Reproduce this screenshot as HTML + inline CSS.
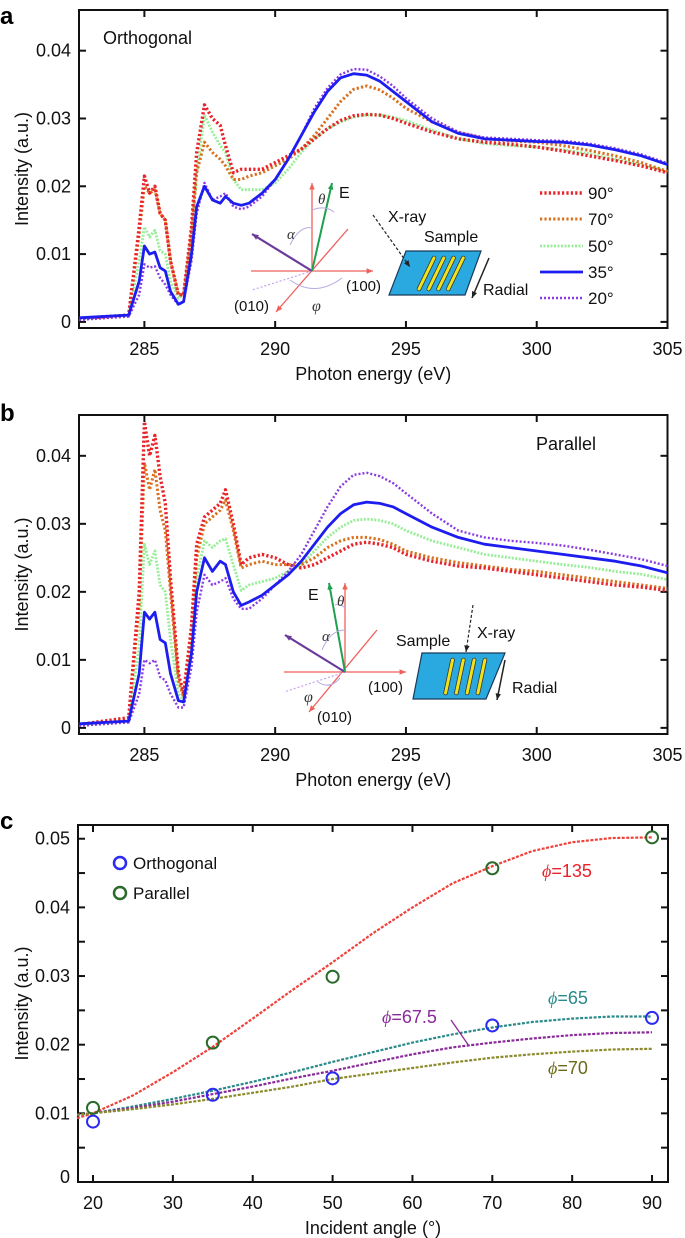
<!DOCTYPE html>
<html><head><meta charset="utf-8">
<style>
html,body{margin:0;padding:0;background:#fff;}
svg{display:block;font-family:"Liberation Sans",sans-serif;}
</style></head>
<body>
<svg id="fig" width="685" height="1238" viewBox="0 0 685 1238" xmlns="http://www.w3.org/2000/svg">
<text x="0" y="24" font-size="24" font-weight="bold">a</text>
<text x="0" y="421" font-size="24" font-weight="bold">b</text>
<text x="0" y="829" font-size="24" font-weight="bold">c</text>
<g id="pa"></g>
<g id="pb"></g>
<g id="pc"></g>
</svg>
<script>
// ---- data panels a & b ----
const energies = [282.5,284.4,284.8,285.0,285.2,285.4,285.6,285.8,286.0,286.3,286.5,286.8,287.0,287.3,287.6,287.9,288.1,288.4,288.7,289.0,289.5,290,290.5,291,291.5,292,292.5,293,293.5,294,294.5,295,296,297,298,299,300,301,302,303,304,305];
const seriesLabels = ["90°","70°","50°","35°","20°"];
const orth90 = [0.5,1,14,21.5,19,20,16,15,9,4,4,14,25,32,30,29,26,22,22.5,22.5,22.5,23.5,24.5,25.5,27,28.5,29.7,30.4,30.6,30.5,30,29.3,28,27,26.5,26.2,25.8,25.2,24.5,23.8,23,22];
const orth70 = [0.5,1,13,20,19,19.5,16,15,9,4,4,13,22,26.5,25,24,23,21,21,21.5,22,23,24,25.5,27.5,30,32.5,34.3,34.8,34.2,33,31.5,29.5,28,27,26.7,26.5,26,25.3,24.5,23.5,22.2];
const orth50 = [0.5,1,9,14,12.5,13.5,10.5,10,6,3.5,4,12,22,30.5,28,26,25,21,19.5,19.5,19.5,20.5,22.5,25,27,28.5,29.5,30.2,30.5,30.5,30.2,29.7,28.3,27,26.3,26,25.8,25.4,24.8,24,23.2,22.2];
const orth35 = [0.6,1,6,11.2,10,10.3,8,7.5,4.5,2.6,3,10,17,20,18,17.5,18.5,17.5,17.2,17.5,19,21,24,27.5,31,34,36,36.6,36.4,35.5,34,32.5,29.5,27.8,27,26.8,26.6,26.5,26.1,25.4,24.5,23.2];
const orth20 = [0.3,0.8,4,8.5,8,8.2,6.5,5.5,4,2.5,3,9,16,20.5,18,18.5,19,17,16.6,17,18.5,21,24,27.5,31.5,34.5,36.5,37.3,37.2,36.2,34.8,33,30,28,27.2,27,26.8,26.7,26.3,25.6,24.7,23.4];
const par90 = [0.5,1.5,20,45,40,43,37,33,22,8,5,15,27,31,32,33,35,30,24,25,25.5,25,24,23.5,24,25,26,27,27.3,27,26.5,25.5,24.5,23.8,23.5,23,22.5,22,21.5,21,20.7,20.2];
const par70 = [0.5,1.5,18,39,35,38,32,29,20,7,4.5,14,25,30,31,32,33.5,29,23.5,24,24.5,24,24,24,25,26.5,27.5,28,28,27.7,27,26,25,24.3,23.8,23.3,23,22.5,22,21.5,21,20.5];
const par50 = [0.5,1,12,27,24,26,21,20,13,5,4,12,22,27.5,26.5,27.5,27.8,24,20.2,21,21.5,22,23,24,26,28,29.5,30.5,30.7,30.5,30,29,27.5,26.5,25.5,25,24.5,24,23.6,23,22.6,21.8];
const par35 = [0.6,1,8,17,16,17,13,12.5,8,4,3.8,11,20,25,23,24.5,24,20,18,18.5,19.5,21,22.5,24.5,27,29.5,31.5,32.8,33.2,33,32.5,31.5,29.5,28,27,26.5,26,25.5,25,24.5,23.8,22.8];
const par20 = [0.3,0.8,5,10,9.5,10,7.5,7,5,3,3,9,17,22.5,21,21.5,22,19,17.5,17.5,19,21,23,25.5,29,32.5,35.5,37.2,37.5,37,36,34.5,31.5,29,28,27.5,27.2,26.8,26.2,25.5,24.8,23.8];
const spectraXTicks = [285,290,295,300,305];
const spectraYTicks = [0,0.01,0.02,0.03,0.04];
// ---- data panel c ----
const angles = [18,20,25,30,35,40,45,50,55,60,65,70,75,80,85,90];
const fitPhi135 = [0.0093,0.0100,0.0126,0.0160,0.0197,0.0238,0.0280,0.0320,0.0362,0.0400,0.0435,0.0460,0.0482,0.0495,0.0501,0.0502];
const fitPhi65 = [0.0098,0.0100,0.0110,0.0121,0.0133,0.0146,0.0160,0.0175,0.0189,0.0203,0.0215,0.0225,0.0233,0.0238,0.0241,0.0241];
const fitPhi675 = [0.0098,0.0100,0.0108,0.0117,0.0128,0.0139,0.0151,0.0162,0.0174,0.0186,0.0196,0.0203,0.0209,0.0214,0.0217,0.0218];
const fitPhi70 = [0.0098,0.0100,0.0106,0.0113,0.0121,0.0130,0.0139,0.0150,0.0158,0.0166,0.0174,0.0181,0.0186,0.0190,0.0193,0.0194];
const pointAngles = [20,35,50,70,90];
const orthPoints = [0.0088,0.0127,0.0151,0.0228,0.0239];
const parPoints = [0.0108,0.0203,0.0299,0.0457,0.0502];
const cXTicks = [20,30,40,50,60,70,80,90];
const cYTicks = [0,0.01,0.02,0.03,0.04,0.05];
const cYMinor = [0.005,0.015,0.025,0.035,0.045];

const NS="http://www.w3.org/2000/svg";
function mk(parent,tag,attrs,text){const e=document.createElementNS(NS,tag);for(const k in attrs)e.setAttribute(k,attrs[k]);if(text!==undefined)e.textContent=text;parent.appendChild(e);return e;}

const styles=[
 {c:"#e8232a",w:3.4,d:"2.2 2.2"},
 {c:"#d8701e",w:3.0,d:"2.2 2.2"},
 {c:"#98ee98",w:2.8,d:"2 1.5"},
 {c:"#1d1df0",w:2.8,d:""},
 {c:"#8a3be2",w:2.4,d:"2 2"}];

function axesFrame(g,L,R,T,B,xs,ys,xt,yt,xTitle,yTitleY,tickFmt,minorY){
  mk(g,"rect",{x:L,y:T,width:R-L,height:B-T,fill:"none",stroke:"#111","stroke-width":2});
  xt.forEach(v=>{const x=xs(v);
    const t=mk(g,"line",{x1:x,y1:B,x2:x,y2:B-7,stroke:"#111","stroke-width":2});
    
    
    mk(g,"line",{x1:x,y1:T,x2:x,y2:T+7,stroke:"#111","stroke-width":2});
    const lb=mk(g,"text",{x:x,y:B+27,"font-size":18,"text-anchor":"middle",fill:"#111"},String(v));
    
    
  });
  yt.forEach(v=>{const y=ys(v);
    mk(g,"line",{x1:L,y1:y,x2:L+7,y2:y,stroke:"#111","stroke-width":2});
    mk(g,"line",{x1:R,y1:y,x2:R-7,y2:y,stroke:"#111","stroke-width":2});
    const lb=mk(g,"text",{x:L-8,y:Math.min(y+6,B+1),"font-size":18,"text-anchor":"end",fill:"#111"},tickFmt(v));
    
    
  });
  (minorY||[]).forEach(v=>{const y=ys(v);
    mk(g,"line",{x1:L,y1:y,x2:L+7,y2:y,stroke:"#111","stroke-width":2});
    mk(g,"line",{x1:R,y1:y,x2:R-7,y2:y,stroke:"#111","stroke-width":2});});
  const xtl=mk(g,"text",{x:(L+R)/2,y:B+52,"font-size":18,"text-anchor":"middle",fill:"#111"},xTitle);
  
  
  const ytl=mk(g,"text",{x:0,y:0,"font-size":18,"text-anchor":"middle",fill:"#111",transform:`translate(28,${yTitleY}) rotate(-90)`},"Intensity (a.u.)");
  
  
}
const fmt=v=>v===0?"0":v.toFixed(2);

function spectraPanel(g,T,B,series,title,tx,ty){
  const L=79,R=667.5,xmin=282.5,xmax=305,ymin=-0.0009,ymax=0.046;
  const xs=v=>L+(v-xmin)/(xmax-xmin)*(R-L);
  const ys=v=>B-(v-ymin)/(ymax-ymin)*(B-T);
  axesFrame(g,L,R,T,B,xs,ys,spectraXTicks,spectraYTicks,"Photon energy (eV)",(T+B)/2,fmt);
  const order=[2,1,0,4,3];
  order.forEach(i=>{const s=series[i],st=styles[i];
    const pts=energies.map((e,j)=>xs(e).toFixed(1)+","+ys(s[j]/1000).toFixed(1)).join(" ");
    const p=mk(g,"polyline",{points:pts,fill:"none",stroke:st.c,"stroke-width":st.w,"stroke-dasharray":st.d,"stroke-linejoin":"round"});
    
    
  });
  const t=mk(g,"text",{x:tx,y:ty,"font-size":18,fill:"#111"},title);
  
  
}
spectraPanel(document.getElementById("pa"),10,328,[orth90,orth70,orth50,orth35,orth20],"Orthogonal",103,44);
spectraPanel(document.getElementById("pb"),415,734,[par90,par70,par50,par35,par20],"Parallel",536,450);

// legend in a
(function(){const g=document.getElementById("pa");
  const lg=mk(g,"g",{});
  
  
  const ly=[193,219,246,272,298];
  seriesLabels.forEach((lab,i)=>{const st=styles[i];
    const e=mk(lg,"g",{});
    
    
    mk(e,"line",{x1:540,y1:ly[i],x2:583,y2:ly[i],stroke:st.c,"stroke-width":st.w,"stroke-dasharray":st.d});
    mk(e,"text",{x:588,y:ly[i]+6,"font-size":17,fill:"#111"},lab);
  });
})();

function arrowHead(g,x1,y1,x2,y2,col,sz){const a=Math.atan2(y2-y1,x2-x1),s=sz||7;
  mk(g,"polygon",{points:`${x2},${y2} ${x2-s*Math.cos(a-0.4)},${y2-s*Math.sin(a-0.4)} ${x2-s*Math.cos(a+0.4)},${y2-s*Math.sin(a+0.4)}`,fill:col});}
function line(g,x1,y1,x2,y2,col,w,dash,head){mk(g,"line",{x1,y1,x2,y2,stroke:col,"stroke-width":w||1.3,"stroke-dasharray":dash||""});if(head)arrowHead(g,x1,y1,x2,y2,col);}
function sample(g,p){mk(g,"polygon",{points:p.map(q=>q.join(",")).join(" "),fill:"#2aa8e0",stroke:"#1a3a5a","stroke-width":1.2});
  const x0=p[3][0],y0=p[3][1],x1=p[0][0],y1=p[0][1];
  for(let k=0;k<4;k++){const ox=(p[1][0]-p[0][0])*(0.32+k*0.13);
    mk(g,"line",{x1:x0+ox+6,y1:y0-6,x2:x1+ox+4,y2:y1+7,stroke:"#333","stroke-width":4.5,"stroke-linecap":"round"});
    mk(g,"line",{x1:x0+ox+6,y1:y0-6,x2:x1+ox+4,y2:y1+7,stroke:"#f2e21c","stroke-width":3,"stroke-linecap":"round"});}}
function ital(g,x,y,t,col,fs){return mk(g,"text",{x,y,"font-size":fs||15,"font-style":"italic","font-family":"Liberation Serif,serif",fill:col||"#333"},t);}

// inset a
(function(){const g=mk(document.getElementById("pa"),"g",{});
  
  
  const R="#f0605a";
  line(g,312,271,312,183,R,1.3,"",true);
  line(g,251,271,373,271,R,1.3,"",true);
  line(g,348,229,276,312,R,1.3,"",true);
  line(g,312,271,252,290,"#c9a8ee",1.3,"2 2");
  line(g,312,271,252,234,"#6a3a9a",2.2,"",true);
  line(g,312,271,332,183,"#1ea050",2,"",true);
  mk(g,"path",{d:"M312,210 Q325,205 334,212",fill:"none",stroke:"#b8a8e0"});
  mk(g,"path",{d:"M312,228 Q300,225 290,245",fill:"none",stroke:"#b8a8e0"});
  mk(g,"path",{d:"M290,280 Q315,298 342,278",fill:"none",stroke:"#b8a8e0"});
  ital(g,318,204,"θ");mk(g,"text",{x:339,y:198,"font-size":16,fill:"#111"},"E");
  ital(g,287,239,"α");ital(g,312,311,"φ","#333",16);
  mk(g,"text",{x:346,y:291,"font-size":15,fill:"#111"},"(100)");
  mk(g,"text",{x:234,y:311,"font-size":15,fill:"#111"},"(010)");
  sample(g,[[406,251],[481,251],[465,295],[389,295]]);
  line(g,373,215,410,267,"#222",1.2,"3 2",true);
  line(g,489,258,472,298,"#222",1.5,"",true);
  mk(g,"text",{x:388,y:222,"font-size":16,fill:"#111"},"X-ray");
  mk(g,"text",{x:424,y:242,"font-size":16,fill:"#111"},"Sample");
  mk(g,"text",{x:483,y:295,"font-size":16,fill:"#111"},"Radial");
})();
// inset b
(function(){const g=mk(document.getElementById("pb"),"g",{});
  
  
  const R="#f0605a";
  line(g,345,672,345,583,R,1.3,"",true);
  line(g,284,672,406,672,R,1.3,"",true);
  line(g,377,630,309,712,R,1.3,"",true);
  line(g,345,672,284,692,"#c9a8ee",1.3,"2 2");
  line(g,345,672,285,635,"#6a3a9a",2.2,"",true);
  line(g,345,672,329,583,"#1ea050",2,"",true);
  mk(g,"path",{d:"M345,608 Q340,603 335,605",fill:"none",stroke:"#b8a8e0"});
  mk(g,"path",{d:"M345,630 Q330,630 322,650",fill:"none",stroke:"#b8a8e0"});
  mk(g,"path",{d:"M318,682 Q330,690 340,678",fill:"none",stroke:"#b8a8e0"});
  mk(g,"text",{x:308,y:600,"font-size":16,fill:"#111"},"E");ital(g,337,606,"θ");
  ital(g,322,641,"α");ital(g,304,702,"φ","#333",16);
  mk(g,"text",{x:368,y:692,"font-size":15,fill:"#111"},"(100)");
  mk(g,"text",{x:317,y:722,"font-size":15,fill:"#111"},"(010)");
  sample(g,[[422,653],[505,653],[486,699],[413,699]]);
  line(g,473,605,466,652,"#222",1.2,"3 2",true);
  line(g,505,660,497,700,"#222",1.5,"",true);
  mk(g,"text",{x:477,y:638,"font-size":16,fill:"#111"},"X-ray");
  mk(g,"text",{x:396,y:646,"font-size":16,fill:"#111"},"Sample");
  mk(g,"text",{x:512,y:693,"font-size":16,fill:"#111"},"Radial");
})();

// panel c
(function(){const g=document.getElementById("pc");
  const L=78,R=668,T=825,B=1182,xmin=18.12,xmax=92,ymin=0,ymax=0.052;
  const xs=v=>L+(v-xmin)/(xmax-xmin)*(R-L);
  const ys=v=>B-(v-ymin)/(ymax-ymin)*(B-T);
  axesFrame(g,L,R,T,B,xs,ys,cXTicks,cYTicks,"Incident angle (°)",(T+B)/2,fmt,cYMinor);
  const fits=[[fitPhi135,"#f0403a","fit-phi-135"],[fitPhi65,"#2a8a8a","fit-phi-65"],[fitPhi675,"#8a2a9a","fit-phi-67-5"],[fitPhi70,"#8a8a2a","fit-phi-70"]];
  fits.forEach(f=>{const pts=angles.map((a,j)=>xs(a).toFixed(1)+","+ys(f[0][j]).toFixed(1)).join(" ");
    const p=mk(g,"polyline",{points:pts,fill:"none",stroke:f[1],"stroke-width":2.2,"stroke-dasharray":"3 1.5"});
    
    });
  pointAngles.forEach((a,j)=>{
    const c1=mk(g,"circle",{cx:xs(a),cy:ys(orthPoints[j]),r:6,fill:"none",stroke:"#2a2af0","stroke-width":2});
    
    
    const c2=mk(g,"circle",{cx:xs(a),cy:ys(parPoints[j]),r:6,fill:"none",stroke:"#2a6a2a","stroke-width":2});
    
    });
  const lg=mk(g,"g",{});
  
  
  mk(lg,"circle",{cx:120,cy:863,r:6,fill:"none",stroke:"#2a2af0","stroke-width":2.5});
  mk(lg,"text",{x:133,y:869,"font-size":17,fill:"#111"},"Orthogonal");
  mk(lg,"circle",{cx:120,cy:893,r:6,fill:"none",stroke:"#2a6a2a","stroke-width":2.5});
  mk(lg,"text",{x:133,y:899,"font-size":17,fill:"#111"},"Parallel");
  function lab(x,y,t,c){const e=mk(g,"text",{x,y,"font-size":18,fill:c});
    mk(e,"tspan",{"font-style":"italic","font-family":"Liberation Serif,serif"},"ϕ");
    mk(e,"tspan",{},t);return e;}
  lab(542,877,"=135","#e8232a");
  lab(548,1004,"=65","#2a8a8a");
  lab(382,1023,"=67.5","#8a2a9a");
  lab(548,1074,"=70","#6a6a1a");
  line(g,451,1020,469,1046,"#8a2a9a",1.3);
})();
</script>
</body></html>
